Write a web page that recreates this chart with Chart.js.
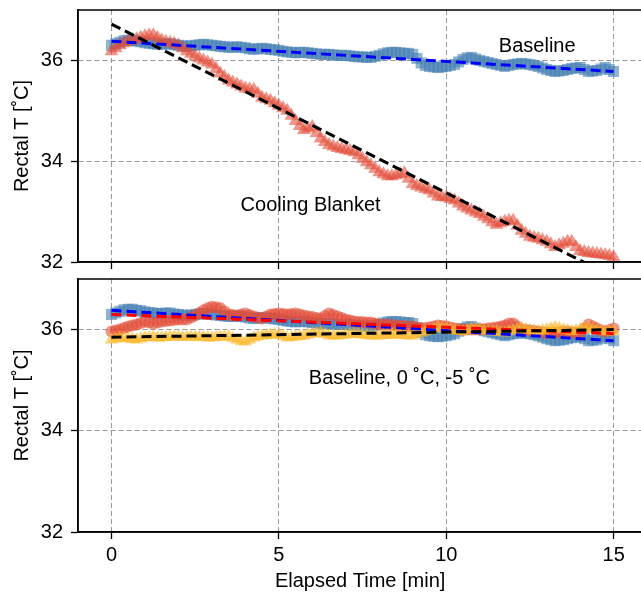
<!DOCTYPE html>
<html>
<head>
<meta charset="utf-8">
<script src="https://cdn.jsdelivr.net/npm/chart.js@4"></script>
<style>
  html, body { margin: 0; padding: 0; background: #fff; overflow: hidden; }
  #topChart { position: absolute; left: 0; top: 0; }
  #bottomChart { position: absolute; left: 0; top: 269px; }
</style>
</head>
<body>
<canvas id="topChart" width="650" height="280"></canvas>
<canvas id="bottomChart" width="650" height="326"></canvas>
<script>
// sampling grid, minutes (every 7.5 s)
const minutes = Array.from({ length: 121 }, (_, i) => i * 0.125);
const xTicks = [0, 5, 10, 15];
const yTicks = [32, 34, 36];

// Baseline (both panels)
const baseline = [
  36.30, 36.33, 36.36, 36.39, 36.40, 36.40, 36.38, 36.37, 36.35, 36.34,
  36.33, 36.32, 36.32, 36.33, 36.33, 36.31, 36.30, 36.29, 36.28, 36.29,
  36.30, 36.31, 36.32, 36.31, 36.30, 36.29, 36.28, 36.27, 36.26, 36.26,
  36.27, 36.26, 36.25, 36.23, 36.22, 36.23, 36.24, 36.23, 36.22, 36.21,
  36.20, 36.18, 36.17, 36.16, 36.15, 36.16, 36.16, 36.15, 36.14, 36.13,
  36.12, 36.12, 36.12, 36.11, 36.10, 36.10, 36.10, 36.09, 36.08, 36.07,
  36.07, 36.06, 36.06, 36.08, 36.10, 36.13, 36.15, 36.16, 36.16, 36.15,
  36.14, 36.14, 36.12, 36.04, 35.95, 35.90, 35.88, 35.87, 35.86, 35.87,
  35.88, 35.90, 35.92, 35.97, 36.02, 36.05, 36.06, 36.03, 36.00, 35.98,
  35.96, 35.94, 35.92, 35.90, 35.88, 35.90, 35.92, 35.93, 35.94, 35.93,
  35.92, 35.90, 35.88, 35.85, 35.82, 35.80, 35.78, 35.79, 35.80, 35.82,
  35.84, 35.85, 35.86, 35.82, 35.78, 35.79, 35.80, 35.83, 35.86, 35.82,
  35.78
];

// Cooling Blanket (top panel)
const blanket = [
  36.18, 36.24, 36.30, 36.34, 36.38, 36.40, 36.42, 36.45, 36.48, 36.50,
  36.50, 36.45, 36.40, 36.37, 36.35, 36.33, 36.30, 36.24, 36.18, 36.13,
  36.08, 36.04, 36.00, 35.96, 35.92, 35.83, 35.74, 35.67, 35.60, 35.56,
  35.52, 35.48, 35.44, 35.43, 35.42, 35.34, 35.26, 35.23, 35.20, 35.15,
  35.10, 35.05, 35.00, 34.90, 34.80, 34.70, 34.62, 34.65, 34.68, 34.56,
  34.45, 34.38, 34.32, 34.29, 34.26, 34.24, 34.22, 34.20, 34.18, 34.12,
  34.05, 33.98, 33.92, 33.85, 33.78, 33.74, 33.70, 33.70, 33.72, 33.74,
  33.76, 33.65, 33.55, 33.51, 33.48, 33.45, 33.42, 33.36, 33.30, 33.29,
  33.28, 33.25, 33.22, 33.16, 33.10, 33.06, 33.02, 32.98, 32.95, 32.90,
  32.85, 32.79, 32.74, 32.77, 32.80, 32.82, 32.82, 32.72, 32.62, 32.56,
  32.50, 32.48, 32.46, 32.43, 32.40, 32.35, 32.30, 32.33, 32.36, 32.40,
  32.40, 32.30, 32.22, 32.20, 32.18, 32.17, 32.16, 32.15, 32.14, 32.12,
  32.10
];

// 0 ˚C (bottom panel)
const zeroC = [
  35.96, 35.98, 36.00, 36.03, 36.06, 36.08, 36.10, 36.13, 36.16, 36.14,
  36.12, 36.14, 36.16, 36.17, 36.18, 36.19, 36.20, 36.20, 36.20, 36.24,
  36.28, 36.33, 36.38, 36.42, 36.45, 36.44, 36.42, 36.36, 36.30, 36.29,
  36.28, 36.30, 36.32, 36.29, 36.26, 36.24, 36.22, 36.26, 36.30, 36.31,
  36.32, 36.31, 36.30, 36.31, 36.32, 36.30, 36.28, 36.26, 36.25, 36.23,
  36.22, 36.27, 36.32, 36.29, 36.26, 36.23, 36.20, 36.18, 36.16, 36.15,
  36.15, 36.14, 36.14, 36.12, 36.10, 36.10, 36.10, 36.09, 36.08, 36.07,
  36.07, 36.06, 36.06, 36.04, 36.02, 36.03, 36.04, 36.06, 36.08, 36.07,
  36.06, 36.04, 36.02, 36.01, 36.00, 36.00, 36.00, 36.00, 36.00, 36.01,
  36.02, 36.03, 36.04, 36.06, 36.08, 36.12, 36.12, 36.06, 36.00, 35.99,
  35.98, 35.97, 35.96, 35.95, 35.94, 35.94, 35.94, 35.95, 35.96, 35.96,
  35.95, 35.94, 35.94, 36.02, 36.10, 36.06, 36.02, 35.98, 35.96, 35.99,
  36.02
];

// -5 ˚C (bottom panel)
const minusFiveC = [
  35.80, 35.82, 35.84, 35.83, 35.82, 35.81, 35.80, 35.82, 35.84, 35.85,
  35.85, 35.84, 35.84, 35.85, 35.86, 35.86, 35.86, 35.85, 35.85, 35.86,
  35.86, 35.85, 35.85, 35.84, 35.84, 35.85, 35.86, 35.86, 35.86, 35.83,
  35.80, 35.77, 35.76, 35.80, 35.84, 35.86, 35.88, 35.89, 35.90, 35.90,
  35.90, 35.87, 35.84, 35.85, 35.86, 35.87, 35.88, 35.90, 35.92, 35.93,
  35.94, 35.91, 35.88, 35.88, 35.88, 35.89, 35.90, 35.91, 35.92, 35.91,
  35.90, 35.89, 35.88, 35.88, 35.88, 35.89, 35.90, 35.90, 35.90, 35.90,
  35.89, 35.88, 35.88, 35.91, 35.94, 35.96, 35.98, 36.01, 36.04, 36.03,
  36.02, 36.00, 35.98, 35.97, 35.96, 35.99, 36.02, 36.01, 36.00, 35.98,
  35.96, 35.96, 35.96, 35.95, 35.94, 35.96, 35.98, 36.00, 36.02, 36.00,
  35.98, 35.97, 35.96, 35.98, 36.00, 36.02, 36.04, 36.02, 36.00, 35.98,
  35.96, 35.98, 36.00, 36.02, 36.04, 36.01, 35.98, 35.97, 35.96, 35.96,
  35.96
];

// linear fits, value at 0 and 15 min
const fitTimes = [0, 15];
const baselineFit = [36.38, 35.78];
const blanketFit = [36.72, 31.70];
const zeroFit = [36.30, 35.92];
const minusFiveFit = [35.85, 36.00];

const FONT = "'Liberation Sans', Arial, Helvetica, sans-serif";

function pts(values, xs) {
  return values.map((v, i) => ({ x: (xs || minutes)[i], y: v }));
}

function markers(values, color, style, radius, order) {
  return {
    data: pts(values),
    pointStyle: style,
    pointRadius: radius,
    backgroundColor: color,
    borderWidth: 0,
    showLine: false,
    order: order,
  };
}

function fitLine(values, color, order) {
  return {
    data: pts(values, fitTimes),
    showLine: true,
    borderColor: color,
    borderWidth: 3,
    borderDash: [10, 5],
    pointRadius: 0,
    clip: 0,
    order: order,
  };
}

// frame + text labels
const framePlugin = {
  id: "frame",
  afterDraw(chart, args, opts) {
    const { ctx, chartArea: a, scales } = chart;
    ctx.save();
    ctx.fillStyle = "#000";
    ctx.font = "20px " + FONT;
    ctx.textAlign = "center";
    ctx.textBaseline = "middle";
    (opts.labels || []).forEach((l) => {
      ctx.fillText(l.text, scales.x.getPixelForValue(l.x), scales.y.getPixelForValue(l.y));
    });
    ctx.strokeStyle = "#000";
    ctx.lineWidth = 1.5;
    ctx.strokeRect(a.left, a.top, a.right - a.left, a.bottom - a.top);
    ctx.restore();
  },
};

function makePanel(id, datasets, showX, xAxisHeight, labels) {
  return new Chart(document.getElementById(id), {
    type: "scatter",
    data: { datasets: datasets },
    plugins: [framePlugin],
    options: {
      responsive: false,
      animation: false,
      layout: { padding: { top: 10, left: 0, right: 0, bottom: 0 } },
      plugins: {
        legend: { display: false },
        tooltip: { enabled: false },
        frame: { labels: labels },
      },
      scales: {
        x: {
          type: "linear",
          min: -1,
          max: 15.85,
          afterBuildTicks: (s) => { s.ticks = xTicks.map((v) => ({ value: v })); },
          afterFit: (s) => { s.height = xAxisHeight; s.paddingLeft = 0; s.paddingRight = 0; },
          ticks: { display: showX, color: "#000", font: { size: 20, family: FONT }, padding: 4, autoSkip: false, maxRotation: 0 },
          grid: { color: "#999", lineWidth: 1, tickColor: "#000", tickLength: 7, tickWidth: 1.3, tickBorderDash: [] },
          border: { color: "#000", width: 1.5, dash: [5, 3] },
          title: {
            display: showX,
            text: "Elapsed Time [min]",
            color: "#000",
            font: { size: 20, family: FONT },
            padding: { top: 0, bottom: 2 },
          },
        },
        y: {
          min: 32,
          max: 37,
          afterBuildTicks: (s) => { s.ticks = yTicks.map((v) => ({ value: v })); },
          afterFit: (s) => { s.width = 78; s.paddingTop = 0; s.paddingBottom = 0; },
          ticks: { color: "#000", font: { size: 20, family: FONT }, padding: 8, autoSkip: false },
          grid: { color: "#999", lineWidth: 1, tickColor: "#000", tickLength: 7, tickWidth: 1.3, tickBorderDash: [] },
          border: { color: "#000", width: 1.5, dash: [5, 3] },
          title: {
            display: true,
            text: "Rectal T [˚C]",
            color: "#000",
            font: { size: 20, family: FONT },
            padding: { top: 10, bottom: 0 },
          },
        },
      },
    },
  });
}

const blue = "rgba(70, 128, 178, 0.6)";
const red = "rgba(226, 76, 56, 0.6)";
const yellow = "rgba(250, 186, 45, 0.65)";

makePanel("topChart", [
  markers(baseline, blue, "rect", 7.8, 6),
  markers(blanket, red, "triangle", 8, 5),
  fitLine(baselineFit, "#0000ff", 2),
  fitLine(blanketFit, "#000000", 1),
], false, 18, [
  { text: "Baseline", x: 12.72, y: 36.27 },
  { text: "Cooling Blanket", x: 5.95, y: 33.13 },
]);

makePanel("bottomChart", [
  markers(baseline, blue, "rect", 7.8, 8),
  markers(zeroC, red, "circle", 6, 7),
  markers(minusFiveC, yellow, "triangle", 7.5, 6),
  fitLine(baselineFit, "#0000ff", 3),
  fitLine(zeroFit, "#ff0000", 2),
  fitLine(minusFiveFit, "#000000", 1),
], true, 63, [
  { text: "Baseline, 0 ˚C, -5 ˚C", x: 8.6, y: 35.03 },
]);
</script>
</body>
</html>
